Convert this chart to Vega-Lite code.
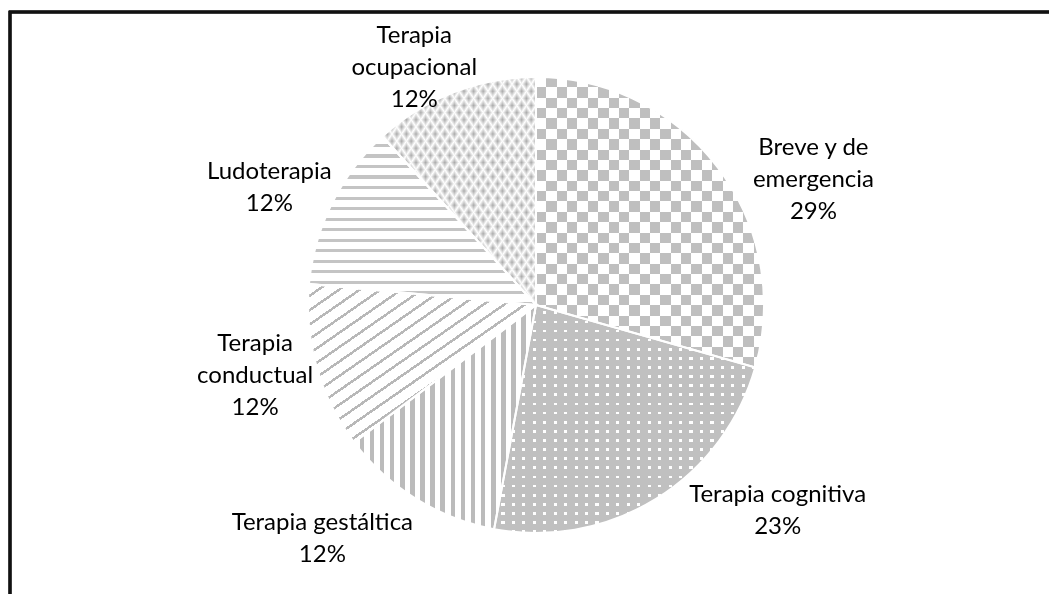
{
  "$schema": "https://vega.github.io/schema/vega-lite/v6.json",
  "width": 1052,
  "height": 586,
  "padding": {"left": 10, "top": 12, "right": 0, "bottom": 0},
  "autosize": {"type": "none"},
  "background": "#ffffff",
  "view": {"stroke": null},
  "data": {"values": [
    {"cat": "Breve y de emergencia", "n": 5, "order": 1, "label": "Breve y de\nemergencia\n29%"},
    {"cat": "Terapia cognitiva", "n": 4, "order": 2, "label": "Terapia cognitiva\n23%"},
    {"cat": "Terapia gestáltica", "n": 2, "order": 3, "label": "Terapia gestáltica\n12%"},
    {"cat": "Terapia conductual", "n": 2, "order": 4, "label": "Terapia\nconductual\n12%"},
    {"cat": "Ludoterapia", "n": 2, "order": 5, "label": "Ludoterapia\n12%"},
    {"cat": "Terapia ocupacional", "n": 2, "order": 6, "label": "Terapia\nocupacional\n12%"}
  ]},
  "layer": [
    {
      "mark": {"type": "rect", "fill": "transparent", "stroke": "#111111", "strokeWidth": 2.5},
      "encoding": {}
    },
    {
      "mark": {"type": "arc", "outerRadius": 228},
      "encoding": {
        "theta": {"field": "n", "type": "quantitative", "stack": true},
        "order": {"field": "order", "type": "quantitative"},
        "detail": {"field": "cat", "type": "nominal"},
        "fill": {
          "condition": [
            {"test": "datum.order == 1", "value": {"gradient": "linear", "x1": 0, "y1": 0, "x2": 1, "y2": 0, "stops": [
              {"offset": 0, "color": "#404040"}, {"offset": 0.0455, "color": "#404040"}, {"offset": 0.0455, "color": "#000000"}, {"offset": 0.0909, "color": "#000000"},
              {"offset": 0.0909, "color": "#404040"}, {"offset": 0.1364, "color": "#404040"}, {"offset": 0.1364, "color": "#000000"}, {"offset": 0.1818, "color": "#000000"},
              {"offset": 0.1818, "color": "#404040"}, {"offset": 0.2273, "color": "#404040"}, {"offset": 0.2273, "color": "#000000"}, {"offset": 0.2727, "color": "#000000"},
              {"offset": 0.2727, "color": "#404040"}, {"offset": 0.3182, "color": "#404040"}, {"offset": 0.3182, "color": "#000000"}, {"offset": 0.3636, "color": "#000000"},
              {"offset": 0.3636, "color": "#404040"}, {"offset": 0.4091, "color": "#404040"}, {"offset": 0.4091, "color": "#000000"}, {"offset": 0.4545, "color": "#000000"},
              {"offset": 0.4545, "color": "#404040"}, {"offset": 0.5, "color": "#404040"}, {"offset": 0.5, "color": "#000000"}, {"offset": 0.5455, "color": "#000000"},
              {"offset": 0.5455, "color": "#404040"}, {"offset": 0.5909, "color": "#404040"}, {"offset": 0.5909, "color": "#000000"}, {"offset": 0.6364, "color": "#000000"},
              {"offset": 0.6364, "color": "#404040"}, {"offset": 0.6818, "color": "#404040"}, {"offset": 0.6818, "color": "#000000"}, {"offset": 0.7273, "color": "#000000"},
              {"offset": 0.7273, "color": "#404040"}, {"offset": 0.7727, "color": "#404040"}, {"offset": 0.7727, "color": "#000000"}, {"offset": 0.8182, "color": "#000000"},
              {"offset": 0.8182, "color": "#404040"}, {"offset": 0.8636, "color": "#404040"}, {"offset": 0.8636, "color": "#000000"}, {"offset": 0.9091, "color": "#000000"},
              {"offset": 0.9091, "color": "#404040"}, {"offset": 0.9545, "color": "#404040"}, {"offset": 0.9545, "color": "#000000"}, {"offset": 1, "color": "#000000"}
            ]}},
            {"test": "datum.order == 2", "value": {"gradient": "linear", "x1": 0, "y1": 0, "x2": 1, "y2": 0, "stops": [
              {"offset": 0, "color": "#c0c0c0"}, {"offset": 0.028, "color": "#c0c0c0"}, {"offset": 0.028, "color": "#ffffff"}, {"offset": 0.04, "color": "#ffffff"},
              {"offset": 0.04, "color": "#c0c0c0"}, {"offset": 0.068, "color": "#c0c0c0"}, {"offset": 0.068, "color": "#ffffff"}, {"offset": 0.08, "color": "#ffffff"},
              {"offset": 0.08, "color": "#c0c0c0"}, {"offset": 0.108, "color": "#c0c0c0"}, {"offset": 0.108, "color": "#ffffff"}, {"offset": 0.12, "color": "#ffffff"},
              {"offset": 0.12, "color": "#c0c0c0"}, {"offset": 0.148, "color": "#c0c0c0"}, {"offset": 0.148, "color": "#ffffff"}, {"offset": 0.16, "color": "#ffffff"},
              {"offset": 0.16, "color": "#c0c0c0"}, {"offset": 0.188, "color": "#c0c0c0"}, {"offset": 0.188, "color": "#ffffff"}, {"offset": 0.2, "color": "#ffffff"},
              {"offset": 0.2, "color": "#c0c0c0"}, {"offset": 0.228, "color": "#c0c0c0"}, {"offset": 0.228, "color": "#ffffff"}, {"offset": 0.24, "color": "#ffffff"},
              {"offset": 0.24, "color": "#c0c0c0"}, {"offset": 0.268, "color": "#c0c0c0"}, {"offset": 0.268, "color": "#ffffff"}, {"offset": 0.28, "color": "#ffffff"},
              {"offset": 0.28, "color": "#c0c0c0"}, {"offset": 0.308, "color": "#c0c0c0"}, {"offset": 0.308, "color": "#ffffff"}, {"offset": 0.32, "color": "#ffffff"},
              {"offset": 0.32, "color": "#c0c0c0"}, {"offset": 0.348, "color": "#c0c0c0"}, {"offset": 0.348, "color": "#ffffff"}, {"offset": 0.36, "color": "#ffffff"},
              {"offset": 0.36, "color": "#c0c0c0"}, {"offset": 0.388, "color": "#c0c0c0"}, {"offset": 0.388, "color": "#ffffff"}, {"offset": 0.4, "color": "#ffffff"},
              {"offset": 0.4, "color": "#c0c0c0"}, {"offset": 0.428, "color": "#c0c0c0"}, {"offset": 0.428, "color": "#ffffff"}, {"offset": 0.44, "color": "#ffffff"},
              {"offset": 0.44, "color": "#c0c0c0"}, {"offset": 0.468, "color": "#c0c0c0"}, {"offset": 0.468, "color": "#ffffff"}, {"offset": 0.48, "color": "#ffffff"},
              {"offset": 0.48, "color": "#c0c0c0"}, {"offset": 0.508, "color": "#c0c0c0"}, {"offset": 0.508, "color": "#ffffff"}, {"offset": 0.52, "color": "#ffffff"},
              {"offset": 0.52, "color": "#c0c0c0"}, {"offset": 0.548, "color": "#c0c0c0"}, {"offset": 0.548, "color": "#ffffff"}, {"offset": 0.56, "color": "#ffffff"},
              {"offset": 0.56, "color": "#c0c0c0"}, {"offset": 0.588, "color": "#c0c0c0"}, {"offset": 0.588, "color": "#ffffff"}, {"offset": 0.6, "color": "#ffffff"},
              {"offset": 0.6, "color": "#c0c0c0"}, {"offset": 0.628, "color": "#c0c0c0"}, {"offset": 0.628, "color": "#ffffff"}, {"offset": 0.64, "color": "#ffffff"},
              {"offset": 0.64, "color": "#c0c0c0"}, {"offset": 0.668, "color": "#c0c0c0"}, {"offset": 0.668, "color": "#ffffff"}, {"offset": 0.68, "color": "#ffffff"},
              {"offset": 0.68, "color": "#c0c0c0"}, {"offset": 0.708, "color": "#c0c0c0"}, {"offset": 0.708, "color": "#ffffff"}, {"offset": 0.72, "color": "#ffffff"},
              {"offset": 0.72, "color": "#c0c0c0"}, {"offset": 0.748, "color": "#c0c0c0"}, {"offset": 0.748, "color": "#ffffff"}, {"offset": 0.76, "color": "#ffffff"},
              {"offset": 0.76, "color": "#c0c0c0"}, {"offset": 0.788, "color": "#c0c0c0"}, {"offset": 0.788, "color": "#ffffff"}, {"offset": 0.8, "color": "#ffffff"},
              {"offset": 0.8, "color": "#c0c0c0"}, {"offset": 0.828, "color": "#c0c0c0"}, {"offset": 0.828, "color": "#ffffff"}, {"offset": 0.84, "color": "#ffffff"},
              {"offset": 0.84, "color": "#c0c0c0"}, {"offset": 0.868, "color": "#c0c0c0"}, {"offset": 0.868, "color": "#ffffff"}, {"offset": 0.88, "color": "#ffffff"},
              {"offset": 0.88, "color": "#c0c0c0"}, {"offset": 0.908, "color": "#c0c0c0"}, {"offset": 0.908, "color": "#ffffff"}, {"offset": 0.92, "color": "#ffffff"},
              {"offset": 0.92, "color": "#c0c0c0"}, {"offset": 0.948, "color": "#c0c0c0"}, {"offset": 0.948, "color": "#ffffff"}, {"offset": 0.96, "color": "#ffffff"},
              {"offset": 0.96, "color": "#c0c0c0"}, {"offset": 0.988, "color": "#c0c0c0"}, {"offset": 0.988, "color": "#ffffff"}, {"offset": 1, "color": "#ffffff"}
            ]}},
            {"test": "datum.order == 3", "value": {"gradient": "linear", "x1": 0, "y1": 0, "x2": 1, "y2": 0, "stops": [
              {"offset": 0, "color": "#ffffff"}, {"offset": 0.0306, "color": "#ffffff"}, {"offset": 0.0306, "color": "#bbbbbb"}, {"offset": 0.0556, "color": "#bbbbbb"},
              {"offset": 0.0556, "color": "#ffffff"}, {"offset": 0.0862, "color": "#ffffff"}, {"offset": 0.0862, "color": "#bbbbbb"}, {"offset": 0.1111, "color": "#bbbbbb"},
              {"offset": 0.1111, "color": "#ffffff"}, {"offset": 0.1417, "color": "#ffffff"}, {"offset": 0.1417, "color": "#bbbbbb"}, {"offset": 0.1667, "color": "#bbbbbb"},
              {"offset": 0.1667, "color": "#ffffff"}, {"offset": 0.1973, "color": "#ffffff"}, {"offset": 0.1973, "color": "#bbbbbb"}, {"offset": 0.2222, "color": "#bbbbbb"},
              {"offset": 0.2222, "color": "#ffffff"}, {"offset": 0.2528, "color": "#ffffff"}, {"offset": 0.2528, "color": "#bbbbbb"}, {"offset": 0.2778, "color": "#bbbbbb"},
              {"offset": 0.2778, "color": "#ffffff"}, {"offset": 0.3084, "color": "#ffffff"}, {"offset": 0.3084, "color": "#bbbbbb"}, {"offset": 0.3333, "color": "#bbbbbb"},
              {"offset": 0.3333, "color": "#ffffff"}, {"offset": 0.3639, "color": "#ffffff"}, {"offset": 0.3639, "color": "#bbbbbb"}, {"offset": 0.3889, "color": "#bbbbbb"},
              {"offset": 0.3889, "color": "#ffffff"}, {"offset": 0.4195, "color": "#ffffff"}, {"offset": 0.4195, "color": "#bbbbbb"}, {"offset": 0.4444, "color": "#bbbbbb"},
              {"offset": 0.4444, "color": "#ffffff"}, {"offset": 0.475, "color": "#ffffff"}, {"offset": 0.475, "color": "#bbbbbb"}, {"offset": 0.5, "color": "#bbbbbb"},
              {"offset": 0.5, "color": "#ffffff"}, {"offset": 0.5306, "color": "#ffffff"}, {"offset": 0.5306, "color": "#bbbbbb"}, {"offset": 0.5556, "color": "#bbbbbb"},
              {"offset": 0.5556, "color": "#ffffff"}, {"offset": 0.5862, "color": "#ffffff"}, {"offset": 0.5862, "color": "#bbbbbb"}, {"offset": 0.6111, "color": "#bbbbbb"},
              {"offset": 0.6111, "color": "#ffffff"}, {"offset": 0.6417, "color": "#ffffff"}, {"offset": 0.6417, "color": "#bbbbbb"}, {"offset": 0.6667, "color": "#bbbbbb"},
              {"offset": 0.6667, "color": "#ffffff"}, {"offset": 0.6973, "color": "#ffffff"}, {"offset": 0.6973, "color": "#bbbbbb"}, {"offset": 0.7222, "color": "#bbbbbb"},
              {"offset": 0.7222, "color": "#ffffff"}, {"offset": 0.7528, "color": "#ffffff"}, {"offset": 0.7528, "color": "#bbbbbb"}, {"offset": 0.7778, "color": "#bbbbbb"},
              {"offset": 0.7778, "color": "#ffffff"}, {"offset": 0.8084, "color": "#ffffff"}, {"offset": 0.8084, "color": "#bbbbbb"}, {"offset": 0.8333, "color": "#bbbbbb"},
              {"offset": 0.8333, "color": "#ffffff"}, {"offset": 0.8639, "color": "#ffffff"}, {"offset": 0.8639, "color": "#bbbbbb"}, {"offset": 0.8889, "color": "#bbbbbb"},
              {"offset": 0.8889, "color": "#ffffff"}, {"offset": 0.9195, "color": "#ffffff"}, {"offset": 0.9195, "color": "#bbbbbb"}, {"offset": 0.9444, "color": "#bbbbbb"},
              {"offset": 0.9444, "color": "#ffffff"}, {"offset": 0.975, "color": "#ffffff"}, {"offset": 0.975, "color": "#bbbbbb"}, {"offset": 1, "color": "#bbbbbb"}
            ]}},
            {"test": "datum.order == 4", "value": {"gradient": "linear", "x1": 0, "y1": 0, "x2": 1, "y2": 1, "stops": [
              {"offset": 0, "color": "#ffffff"}, {"offset": 0.0359, "color": "#ffffff"}, {"offset": 0.0359, "color": "#b8b8b8"}, {"offset": 0.0455, "color": "#b8b8b8"},
              {"offset": 0.0455, "color": "#ffffff"}, {"offset": 0.0814, "color": "#ffffff"}, {"offset": 0.0814, "color": "#b8b8b8"}, {"offset": 0.0909, "color": "#b8b8b8"},
              {"offset": 0.0909, "color": "#ffffff"}, {"offset": 0.1268, "color": "#ffffff"}, {"offset": 0.1268, "color": "#b8b8b8"}, {"offset": 0.1364, "color": "#b8b8b8"},
              {"offset": 0.1364, "color": "#ffffff"}, {"offset": 0.1723, "color": "#ffffff"}, {"offset": 0.1723, "color": "#b8b8b8"}, {"offset": 0.1818, "color": "#b8b8b8"},
              {"offset": 0.1818, "color": "#ffffff"}, {"offset": 0.2177, "color": "#ffffff"}, {"offset": 0.2177, "color": "#b8b8b8"}, {"offset": 0.2273, "color": "#b8b8b8"},
              {"offset": 0.2273, "color": "#ffffff"}, {"offset": 0.2632, "color": "#ffffff"}, {"offset": 0.2632, "color": "#b8b8b8"}, {"offset": 0.2727, "color": "#b8b8b8"},
              {"offset": 0.2727, "color": "#ffffff"}, {"offset": 0.3086, "color": "#ffffff"}, {"offset": 0.3086, "color": "#b8b8b8"}, {"offset": 0.3182, "color": "#b8b8b8"},
              {"offset": 0.3182, "color": "#ffffff"}, {"offset": 0.3541, "color": "#ffffff"}, {"offset": 0.3541, "color": "#b8b8b8"}, {"offset": 0.3636, "color": "#b8b8b8"},
              {"offset": 0.3636, "color": "#ffffff"}, {"offset": 0.3995, "color": "#ffffff"}, {"offset": 0.3995, "color": "#b8b8b8"}, {"offset": 0.4091, "color": "#b8b8b8"},
              {"offset": 0.4091, "color": "#ffffff"}, {"offset": 0.445, "color": "#ffffff"}, {"offset": 0.445, "color": "#b8b8b8"}, {"offset": 0.4545, "color": "#b8b8b8"},
              {"offset": 0.4545, "color": "#ffffff"}, {"offset": 0.4904, "color": "#ffffff"}, {"offset": 0.4904, "color": "#b8b8b8"}, {"offset": 0.5, "color": "#b8b8b8"},
              {"offset": 0.5, "color": "#ffffff"}, {"offset": 0.5359, "color": "#ffffff"}, {"offset": 0.5359, "color": "#b8b8b8"}, {"offset": 0.5455, "color": "#b8b8b8"},
              {"offset": 0.5455, "color": "#ffffff"}, {"offset": 0.5814, "color": "#ffffff"}, {"offset": 0.5814, "color": "#b8b8b8"}, {"offset": 0.5909, "color": "#b8b8b8"},
              {"offset": 0.5909, "color": "#ffffff"}, {"offset": 0.6268, "color": "#ffffff"}, {"offset": 0.6268, "color": "#b8b8b8"}, {"offset": 0.6364, "color": "#b8b8b8"},
              {"offset": 0.6364, "color": "#ffffff"}, {"offset": 0.6723, "color": "#ffffff"}, {"offset": 0.6723, "color": "#b8b8b8"}, {"offset": 0.6818, "color": "#b8b8b8"},
              {"offset": 0.6818, "color": "#ffffff"}, {"offset": 0.7177, "color": "#ffffff"}, {"offset": 0.7177, "color": "#b8b8b8"}, {"offset": 0.7273, "color": "#b8b8b8"},
              {"offset": 0.7273, "color": "#ffffff"}, {"offset": 0.7632, "color": "#ffffff"}, {"offset": 0.7632, "color": "#b8b8b8"}, {"offset": 0.7727, "color": "#b8b8b8"},
              {"offset": 0.7727, "color": "#ffffff"}, {"offset": 0.8086, "color": "#ffffff"}, {"offset": 0.8086, "color": "#b8b8b8"}, {"offset": 0.8182, "color": "#b8b8b8"},
              {"offset": 0.8182, "color": "#ffffff"}, {"offset": 0.8541, "color": "#ffffff"}, {"offset": 0.8541, "color": "#b8b8b8"}, {"offset": 0.8636, "color": "#b8b8b8"},
              {"offset": 0.8636, "color": "#ffffff"}, {"offset": 0.8995, "color": "#ffffff"}, {"offset": 0.8995, "color": "#b8b8b8"}, {"offset": 0.9091, "color": "#b8b8b8"},
              {"offset": 0.9091, "color": "#ffffff"}, {"offset": 0.945, "color": "#ffffff"}, {"offset": 0.945, "color": "#b8b8b8"}, {"offset": 0.9545, "color": "#b8b8b8"},
              {"offset": 0.9545, "color": "#ffffff"}, {"offset": 0.9904, "color": "#ffffff"}, {"offset": 0.9904, "color": "#b8b8b8"}, {"offset": 1, "color": "#b8b8b8"}
            ]}},
            {"test": "datum.order == 5", "value": {"gradient": "linear", "x1": 0, "y1": 0, "x2": 0, "y2": 1, "stops": [
              {"offset": 0, "color": "#ffffff"}, {"offset": 0.0438, "color": "#ffffff"}, {"offset": 0.0438, "color": "#c4c4c4"}, {"offset": 0.0625, "color": "#c4c4c4"},
              {"offset": 0.0625, "color": "#ffffff"}, {"offset": 0.1063, "color": "#ffffff"}, {"offset": 0.1063, "color": "#c4c4c4"}, {"offset": 0.125, "color": "#c4c4c4"},
              {"offset": 0.125, "color": "#ffffff"}, {"offset": 0.1688, "color": "#ffffff"}, {"offset": 0.1688, "color": "#c4c4c4"}, {"offset": 0.1875, "color": "#c4c4c4"},
              {"offset": 0.1875, "color": "#ffffff"}, {"offset": 0.2313, "color": "#ffffff"}, {"offset": 0.2313, "color": "#c4c4c4"}, {"offset": 0.25, "color": "#c4c4c4"},
              {"offset": 0.25, "color": "#ffffff"}, {"offset": 0.2938, "color": "#ffffff"}, {"offset": 0.2938, "color": "#c4c4c4"}, {"offset": 0.3125, "color": "#c4c4c4"},
              {"offset": 0.3125, "color": "#ffffff"}, {"offset": 0.3563, "color": "#ffffff"}, {"offset": 0.3563, "color": "#c4c4c4"}, {"offset": 0.375, "color": "#c4c4c4"},
              {"offset": 0.375, "color": "#ffffff"}, {"offset": 0.4188, "color": "#ffffff"}, {"offset": 0.4188, "color": "#c4c4c4"}, {"offset": 0.4375, "color": "#c4c4c4"},
              {"offset": 0.4375, "color": "#ffffff"}, {"offset": 0.4813, "color": "#ffffff"}, {"offset": 0.4813, "color": "#c4c4c4"}, {"offset": 0.5, "color": "#c4c4c4"},
              {"offset": 0.5, "color": "#ffffff"}, {"offset": 0.5438, "color": "#ffffff"}, {"offset": 0.5438, "color": "#c4c4c4"}, {"offset": 0.5625, "color": "#c4c4c4"},
              {"offset": 0.5625, "color": "#ffffff"}, {"offset": 0.6063, "color": "#ffffff"}, {"offset": 0.6063, "color": "#c4c4c4"}, {"offset": 0.625, "color": "#c4c4c4"},
              {"offset": 0.625, "color": "#ffffff"}, {"offset": 0.6688, "color": "#ffffff"}, {"offset": 0.6688, "color": "#c4c4c4"}, {"offset": 0.6875, "color": "#c4c4c4"},
              {"offset": 0.6875, "color": "#ffffff"}, {"offset": 0.7313, "color": "#ffffff"}, {"offset": 0.7313, "color": "#c4c4c4"}, {"offset": 0.75, "color": "#c4c4c4"},
              {"offset": 0.75, "color": "#ffffff"}, {"offset": 0.7938, "color": "#ffffff"}, {"offset": 0.7938, "color": "#c4c4c4"}, {"offset": 0.8125, "color": "#c4c4c4"},
              {"offset": 0.8125, "color": "#ffffff"}, {"offset": 0.8563, "color": "#ffffff"}, {"offset": 0.8563, "color": "#c4c4c4"}, {"offset": 0.875, "color": "#c4c4c4"},
              {"offset": 0.875, "color": "#ffffff"}, {"offset": 0.9188, "color": "#ffffff"}, {"offset": 0.9188, "color": "#c4c4c4"}, {"offset": 0.9375, "color": "#c4c4c4"},
              {"offset": 0.9375, "color": "#ffffff"}, {"offset": 0.9813, "color": "#ffffff"}, {"offset": 0.9813, "color": "#c4c4c4"}, {"offset": 1, "color": "#c4c4c4"}
            ]}},
            {"test": "datum.order == 6", "value": {"gradient": "linear", "x1": 0, "y1": 0, "x2": 1, "y2": 1, "stops": [
              {"offset": 0, "color": "#ffffff"}, {"offset": 0.0156, "color": "#aaaaaa"}, {"offset": 0.0313, "color": "#ffffff"}, {"offset": 0.0469, "color": "#aaaaaa"},
              {"offset": 0.0625, "color": "#ffffff"}, {"offset": 0.0781, "color": "#aaaaaa"}, {"offset": 0.0938, "color": "#ffffff"}, {"offset": 0.1094, "color": "#aaaaaa"},
              {"offset": 0.125, "color": "#ffffff"}, {"offset": 0.1406, "color": "#aaaaaa"}, {"offset": 0.1563, "color": "#ffffff"}, {"offset": 0.1719, "color": "#aaaaaa"},
              {"offset": 0.1875, "color": "#ffffff"}, {"offset": 0.2031, "color": "#aaaaaa"}, {"offset": 0.2188, "color": "#ffffff"}, {"offset": 0.2344, "color": "#aaaaaa"},
              {"offset": 0.25, "color": "#ffffff"}, {"offset": 0.2656, "color": "#aaaaaa"}, {"offset": 0.2813, "color": "#ffffff"}, {"offset": 0.2969, "color": "#aaaaaa"},
              {"offset": 0.3125, "color": "#ffffff"}, {"offset": 0.3281, "color": "#aaaaaa"}, {"offset": 0.3438, "color": "#ffffff"}, {"offset": 0.3594, "color": "#aaaaaa"},
              {"offset": 0.375, "color": "#ffffff"}, {"offset": 0.3906, "color": "#aaaaaa"}, {"offset": 0.4063, "color": "#ffffff"}, {"offset": 0.4219, "color": "#aaaaaa"},
              {"offset": 0.4375, "color": "#ffffff"}, {"offset": 0.4531, "color": "#aaaaaa"}, {"offset": 0.4688, "color": "#ffffff"}, {"offset": 0.4844, "color": "#aaaaaa"},
              {"offset": 0.5, "color": "#ffffff"}, {"offset": 0.5156, "color": "#aaaaaa"}, {"offset": 0.5313, "color": "#ffffff"}, {"offset": 0.5469, "color": "#aaaaaa"},
              {"offset": 0.5625, "color": "#ffffff"}, {"offset": 0.5781, "color": "#aaaaaa"}, {"offset": 0.5938, "color": "#ffffff"}, {"offset": 0.6094, "color": "#aaaaaa"},
              {"offset": 0.625, "color": "#ffffff"}, {"offset": 0.6406, "color": "#aaaaaa"}, {"offset": 0.6563, "color": "#ffffff"}, {"offset": 0.6719, "color": "#aaaaaa"},
              {"offset": 0.6875, "color": "#ffffff"}, {"offset": 0.7031, "color": "#aaaaaa"}, {"offset": 0.7188, "color": "#ffffff"}, {"offset": 0.7344, "color": "#aaaaaa"},
              {"offset": 0.75, "color": "#ffffff"}, {"offset": 0.7656, "color": "#aaaaaa"}, {"offset": 0.7813, "color": "#ffffff"}, {"offset": 0.7969, "color": "#aaaaaa"},
              {"offset": 0.8125, "color": "#ffffff"}, {"offset": 0.8281, "color": "#aaaaaa"}, {"offset": 0.8438, "color": "#ffffff"}, {"offset": 0.8594, "color": "#aaaaaa"},
              {"offset": 0.875, "color": "#ffffff"}, {"offset": 0.8906, "color": "#aaaaaa"}, {"offset": 0.9063, "color": "#ffffff"}, {"offset": 0.9219, "color": "#aaaaaa"},
              {"offset": 0.9375, "color": "#ffffff"}, {"offset": 0.9531, "color": "#aaaaaa"}, {"offset": 0.9688, "color": "#ffffff"}, {"offset": 0.9844, "color": "#aaaaaa"},
              {"offset": 1, "color": "#ffffff"}
            ]}}
          ],
          "value": "transparent"
        }
      }
    },
    {
      "mark": {"type": "arc", "outerRadius": 228, "blend": "difference"},
      "encoding": {
        "theta": {"field": "n", "type": "quantitative", "stack": true},
        "order": {"field": "order", "type": "quantitative"},
        "detail": {"field": "cat", "type": "nominal"},
        "fill": {
          "condition": {"test": "datum.order == 1", "value": {"gradient": "linear", "x1": 0, "y1": 0, "x2": 0, "y2": 1, "stops": [
            {"offset": 0, "color": "#404040"}, {"offset": 0.0357, "color": "#404040"}, {"offset": 0.0357, "color": "#000000"}, {"offset": 0.0714, "color": "#000000"},
            {"offset": 0.0714, "color": "#404040"}, {"offset": 0.1071, "color": "#404040"}, {"offset": 0.1071, "color": "#000000"}, {"offset": 0.1429, "color": "#000000"},
            {"offset": 0.1429, "color": "#404040"}, {"offset": 0.1786, "color": "#404040"}, {"offset": 0.1786, "color": "#000000"}, {"offset": 0.2143, "color": "#000000"},
            {"offset": 0.2143, "color": "#404040"}, {"offset": 0.25, "color": "#404040"}, {"offset": 0.25, "color": "#000000"}, {"offset": 0.2857, "color": "#000000"},
            {"offset": 0.2857, "color": "#404040"}, {"offset": 0.3214, "color": "#404040"}, {"offset": 0.3214, "color": "#000000"}, {"offset": 0.3571, "color": "#000000"},
            {"offset": 0.3571, "color": "#404040"}, {"offset": 0.3929, "color": "#404040"}, {"offset": 0.3929, "color": "#000000"}, {"offset": 0.4286, "color": "#000000"},
            {"offset": 0.4286, "color": "#404040"}, {"offset": 0.4643, "color": "#404040"}, {"offset": 0.4643, "color": "#000000"}, {"offset": 0.5, "color": "#000000"},
            {"offset": 0.5, "color": "#404040"}, {"offset": 0.5357, "color": "#404040"}, {"offset": 0.5357, "color": "#000000"}, {"offset": 0.5714, "color": "#000000"},
            {"offset": 0.5714, "color": "#404040"}, {"offset": 0.6071, "color": "#404040"}, {"offset": 0.6071, "color": "#000000"}, {"offset": 0.6429, "color": "#000000"},
            {"offset": 0.6429, "color": "#404040"}, {"offset": 0.6786, "color": "#404040"}, {"offset": 0.6786, "color": "#000000"}, {"offset": 0.7143, "color": "#000000"},
            {"offset": 0.7143, "color": "#404040"}, {"offset": 0.75, "color": "#404040"}, {"offset": 0.75, "color": "#000000"}, {"offset": 0.7857, "color": "#000000"},
            {"offset": 0.7857, "color": "#404040"}, {"offset": 0.8214, "color": "#404040"}, {"offset": 0.8214, "color": "#000000"}, {"offset": 0.8571, "color": "#000000"},
            {"offset": 0.8571, "color": "#404040"}, {"offset": 0.8929, "color": "#404040"}, {"offset": 0.8929, "color": "#000000"}, {"offset": 0.9286, "color": "#000000"},
            {"offset": 0.9286, "color": "#404040"}, {"offset": 0.9643, "color": "#404040"}, {"offset": 0.9643, "color": "#000000"}, {"offset": 1, "color": "#000000"}
          ]}},
          "value": "transparent"
        }
      }
    },
    {
      "mark": {"type": "arc", "outerRadius": 228, "blend": "difference"},
      "encoding": {
        "theta": {"field": "n", "type": "quantitative", "stack": true},
        "order": {"field": "order", "type": "quantitative"},
        "detail": {"field": "cat", "type": "nominal"},
        "fill": {"condition": {"test": "datum.order == 1", "value": "#ffffff"}, "value": "transparent"}
      }
    },
    {
      "mark": {"type": "arc", "outerRadius": 228, "blend": "darken"},
      "encoding": {
        "theta": {"field": "n", "type": "quantitative", "stack": true},
        "order": {"field": "order", "type": "quantitative"},
        "detail": {"field": "cat", "type": "nominal"},
        "fill": {
          "condition": {"test": "datum.order == 2", "value": {"gradient": "linear", "x1": 0, "y1": 0, "x2": 0, "y2": 1, "stops": [
            {"offset": 0, "color": "#c0c0c0"}, {"offset": 0.028, "color": "#c0c0c0"}, {"offset": 0.028, "color": "#ffffff"}, {"offset": 0.04, "color": "#ffffff"},
            {"offset": 0.04, "color": "#c0c0c0"}, {"offset": 0.068, "color": "#c0c0c0"}, {"offset": 0.068, "color": "#ffffff"}, {"offset": 0.08, "color": "#ffffff"},
            {"offset": 0.08, "color": "#c0c0c0"}, {"offset": 0.108, "color": "#c0c0c0"}, {"offset": 0.108, "color": "#ffffff"}, {"offset": 0.12, "color": "#ffffff"},
            {"offset": 0.12, "color": "#c0c0c0"}, {"offset": 0.148, "color": "#c0c0c0"}, {"offset": 0.148, "color": "#ffffff"}, {"offset": 0.16, "color": "#ffffff"},
            {"offset": 0.16, "color": "#c0c0c0"}, {"offset": 0.188, "color": "#c0c0c0"}, {"offset": 0.188, "color": "#ffffff"}, {"offset": 0.2, "color": "#ffffff"},
            {"offset": 0.2, "color": "#c0c0c0"}, {"offset": 0.228, "color": "#c0c0c0"}, {"offset": 0.228, "color": "#ffffff"}, {"offset": 0.24, "color": "#ffffff"},
            {"offset": 0.24, "color": "#c0c0c0"}, {"offset": 0.268, "color": "#c0c0c0"}, {"offset": 0.268, "color": "#ffffff"}, {"offset": 0.28, "color": "#ffffff"},
            {"offset": 0.28, "color": "#c0c0c0"}, {"offset": 0.308, "color": "#c0c0c0"}, {"offset": 0.308, "color": "#ffffff"}, {"offset": 0.32, "color": "#ffffff"},
            {"offset": 0.32, "color": "#c0c0c0"}, {"offset": 0.348, "color": "#c0c0c0"}, {"offset": 0.348, "color": "#ffffff"}, {"offset": 0.36, "color": "#ffffff"},
            {"offset": 0.36, "color": "#c0c0c0"}, {"offset": 0.388, "color": "#c0c0c0"}, {"offset": 0.388, "color": "#ffffff"}, {"offset": 0.4, "color": "#ffffff"},
            {"offset": 0.4, "color": "#c0c0c0"}, {"offset": 0.428, "color": "#c0c0c0"}, {"offset": 0.428, "color": "#ffffff"}, {"offset": 0.44, "color": "#ffffff"},
            {"offset": 0.44, "color": "#c0c0c0"}, {"offset": 0.468, "color": "#c0c0c0"}, {"offset": 0.468, "color": "#ffffff"}, {"offset": 0.48, "color": "#ffffff"},
            {"offset": 0.48, "color": "#c0c0c0"}, {"offset": 0.508, "color": "#c0c0c0"}, {"offset": 0.508, "color": "#ffffff"}, {"offset": 0.52, "color": "#ffffff"},
            {"offset": 0.52, "color": "#c0c0c0"}, {"offset": 0.548, "color": "#c0c0c0"}, {"offset": 0.548, "color": "#ffffff"}, {"offset": 0.56, "color": "#ffffff"},
            {"offset": 0.56, "color": "#c0c0c0"}, {"offset": 0.588, "color": "#c0c0c0"}, {"offset": 0.588, "color": "#ffffff"}, {"offset": 0.6, "color": "#ffffff"},
            {"offset": 0.6, "color": "#c0c0c0"}, {"offset": 0.628, "color": "#c0c0c0"}, {"offset": 0.628, "color": "#ffffff"}, {"offset": 0.64, "color": "#ffffff"},
            {"offset": 0.64, "color": "#c0c0c0"}, {"offset": 0.668, "color": "#c0c0c0"}, {"offset": 0.668, "color": "#ffffff"}, {"offset": 0.68, "color": "#ffffff"},
            {"offset": 0.68, "color": "#c0c0c0"}, {"offset": 0.708, "color": "#c0c0c0"}, {"offset": 0.708, "color": "#ffffff"}, {"offset": 0.72, "color": "#ffffff"},
            {"offset": 0.72, "color": "#c0c0c0"}, {"offset": 0.748, "color": "#c0c0c0"}, {"offset": 0.748, "color": "#ffffff"}, {"offset": 0.76, "color": "#ffffff"},
            {"offset": 0.76, "color": "#c0c0c0"}, {"offset": 0.788, "color": "#c0c0c0"}, {"offset": 0.788, "color": "#ffffff"}, {"offset": 0.8, "color": "#ffffff"},
            {"offset": 0.8, "color": "#c0c0c0"}, {"offset": 0.828, "color": "#c0c0c0"}, {"offset": 0.828, "color": "#ffffff"}, {"offset": 0.84, "color": "#ffffff"},
            {"offset": 0.84, "color": "#c0c0c0"}, {"offset": 0.868, "color": "#c0c0c0"}, {"offset": 0.868, "color": "#ffffff"}, {"offset": 0.88, "color": "#ffffff"},
            {"offset": 0.88, "color": "#c0c0c0"}, {"offset": 0.908, "color": "#c0c0c0"}, {"offset": 0.908, "color": "#ffffff"}, {"offset": 0.92, "color": "#ffffff"},
            {"offset": 0.92, "color": "#c0c0c0"}, {"offset": 0.948, "color": "#c0c0c0"}, {"offset": 0.948, "color": "#ffffff"}, {"offset": 0.96, "color": "#ffffff"},
            {"offset": 0.96, "color": "#c0c0c0"}, {"offset": 0.988, "color": "#c0c0c0"}, {"offset": 0.988, "color": "#ffffff"}, {"offset": 1, "color": "#ffffff"}
          ]}},
          "value": "transparent"
        }
      }
    },
    {
      "mark": {"type": "arc", "outerRadius": 228, "blend": "lighten"},
      "encoding": {
        "theta": {"field": "n", "type": "quantitative", "stack": true},
        "order": {"field": "order", "type": "quantitative"},
        "detail": {"field": "cat", "type": "nominal"},
        "fill": {
          "condition": {"test": "datum.order == 6", "value": {"gradient": "linear", "x1": 1, "y1": 0, "x2": 0, "y2": 1, "stops": [
            {"offset": 0, "color": "#ffffff"}, {"offset": 0.0156, "color": "#aaaaaa"}, {"offset": 0.0313, "color": "#ffffff"}, {"offset": 0.0469, "color": "#aaaaaa"},
            {"offset": 0.0625, "color": "#ffffff"}, {"offset": 0.0781, "color": "#aaaaaa"}, {"offset": 0.0938, "color": "#ffffff"}, {"offset": 0.1094, "color": "#aaaaaa"},
            {"offset": 0.125, "color": "#ffffff"}, {"offset": 0.1406, "color": "#aaaaaa"}, {"offset": 0.1563, "color": "#ffffff"}, {"offset": 0.1719, "color": "#aaaaaa"},
            {"offset": 0.1875, "color": "#ffffff"}, {"offset": 0.2031, "color": "#aaaaaa"}, {"offset": 0.2188, "color": "#ffffff"}, {"offset": 0.2344, "color": "#aaaaaa"},
            {"offset": 0.25, "color": "#ffffff"}, {"offset": 0.2656, "color": "#aaaaaa"}, {"offset": 0.2813, "color": "#ffffff"}, {"offset": 0.2969, "color": "#aaaaaa"},
            {"offset": 0.3125, "color": "#ffffff"}, {"offset": 0.3281, "color": "#aaaaaa"}, {"offset": 0.3438, "color": "#ffffff"}, {"offset": 0.3594, "color": "#aaaaaa"},
            {"offset": 0.375, "color": "#ffffff"}, {"offset": 0.3906, "color": "#aaaaaa"}, {"offset": 0.4063, "color": "#ffffff"}, {"offset": 0.4219, "color": "#aaaaaa"},
            {"offset": 0.4375, "color": "#ffffff"}, {"offset": 0.4531, "color": "#aaaaaa"}, {"offset": 0.4688, "color": "#ffffff"}, {"offset": 0.4844, "color": "#aaaaaa"},
            {"offset": 0.5, "color": "#ffffff"}, {"offset": 0.5156, "color": "#aaaaaa"}, {"offset": 0.5313, "color": "#ffffff"}, {"offset": 0.5469, "color": "#aaaaaa"},
            {"offset": 0.5625, "color": "#ffffff"}, {"offset": 0.5781, "color": "#aaaaaa"}, {"offset": 0.5938, "color": "#ffffff"}, {"offset": 0.6094, "color": "#aaaaaa"},
            {"offset": 0.625, "color": "#ffffff"}, {"offset": 0.6406, "color": "#aaaaaa"}, {"offset": 0.6563, "color": "#ffffff"}, {"offset": 0.6719, "color": "#aaaaaa"},
            {"offset": 0.6875, "color": "#ffffff"}, {"offset": 0.7031, "color": "#aaaaaa"}, {"offset": 0.7188, "color": "#ffffff"}, {"offset": 0.7344, "color": "#aaaaaa"},
            {"offset": 0.75, "color": "#ffffff"}, {"offset": 0.7656, "color": "#aaaaaa"}, {"offset": 0.7813, "color": "#ffffff"}, {"offset": 0.7969, "color": "#aaaaaa"},
            {"offset": 0.8125, "color": "#ffffff"}, {"offset": 0.8281, "color": "#aaaaaa"}, {"offset": 0.8438, "color": "#ffffff"}, {"offset": 0.8594, "color": "#aaaaaa"},
            {"offset": 0.875, "color": "#ffffff"}, {"offset": 0.8906, "color": "#aaaaaa"}, {"offset": 0.9063, "color": "#ffffff"}, {"offset": 0.9219, "color": "#aaaaaa"},
            {"offset": 0.9375, "color": "#ffffff"}, {"offset": 0.9531, "color": "#aaaaaa"}, {"offset": 0.9688, "color": "#ffffff"}, {"offset": 0.9844, "color": "#aaaaaa"},
            {"offset": 1, "color": "#ffffff"}
          ]}},
          "value": "transparent"
        }
      }
    },
    {
      "mark": {"type": "arc", "outerRadius": 228, "fillOpacity": 0, "stroke": "#ffffff", "strokeWidth": 2},
      "encoding": {
        "theta": {"field": "n", "type": "quantitative", "stack": true},
        "order": {"field": "order", "type": "quantitative"},
        "detail": {"field": "cat", "type": "nominal"}
      }
    },
    {
      "mark": {
        "type": "text",
        "radius": 290,
        "font": "Lato",
        "fontSize": 24,
        "lineHeight": 32,
        "lineBreak": "\n",
        "align": "center",
        "baseline": "middle",
        "color": "#000000",
        "dx": {"expr": "datum.order == 1 ? 46 : datum.order == 2 ? 89 : datum.order == 3 ? -61 : datum.order == 4 ? -2 : datum.order == 5 ? -7 : -17"},
        "dy": {"expr": "datum.order == 1 ? 18 : datum.order == 2 ? -57 : datum.order == 3 ? -29 : datum.order == 4 ? -40 : datum.order == 5 ? -4 : 1"}
      },
      "encoding": {
        "theta": {"field": "n", "type": "quantitative", "stack": true},
        "order": {"field": "order", "type": "quantitative"},
        "detail": {"field": "cat", "type": "nominal"},
        "text": {"field": "label", "type": "nominal"}
      }
    }
  ]
}
